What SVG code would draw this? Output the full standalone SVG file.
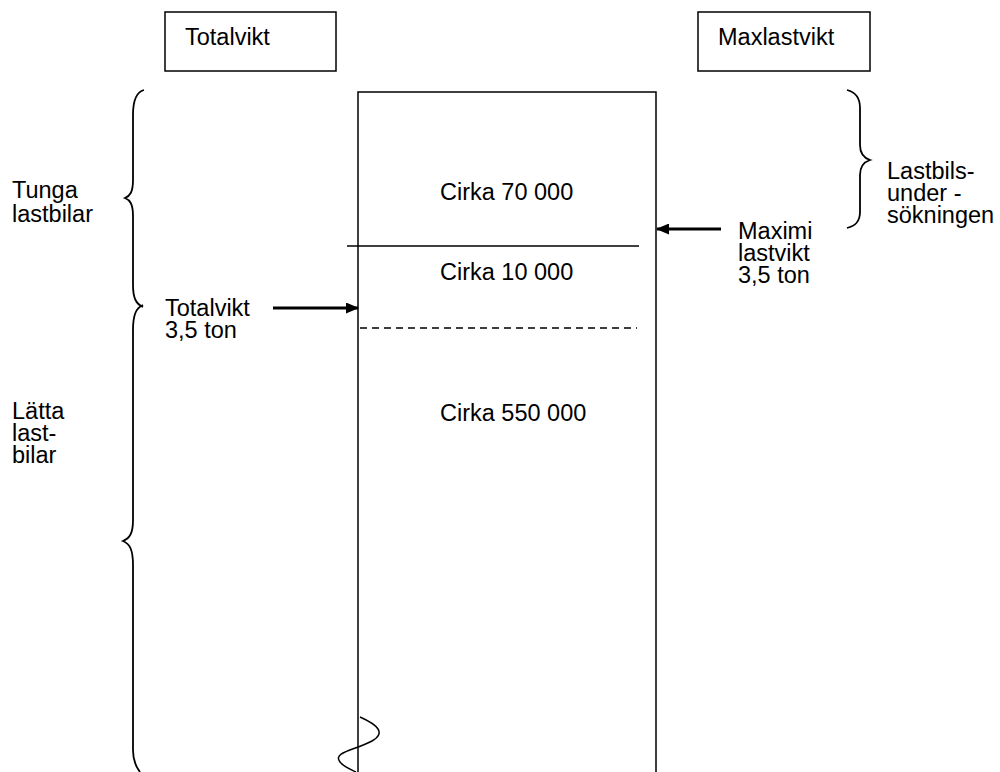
<svg xmlns="http://www.w3.org/2000/svg" width="1000" height="772" viewBox="0 0 1000 772">
<style>
text{font-family:"Liberation Sans",Arial,sans-serif;font-size:23.5px;fill:#000}
.ln{stroke:#000;stroke-width:1.5;fill:none}
.br{stroke:#000;stroke-width:1.8;fill:none}
.ar{stroke:#000;stroke-width:3;fill:none}
</style>
<defs>
<marker id="ah" markerWidth="13" markerHeight="11" refX="12" refY="5.5" orient="auto" markerUnits="userSpaceOnUse">
<path d="M0,0 L13,5.5 L0,11 Z" fill="#000"/>
</marker>
</defs>
<rect width="1000" height="772" fill="#fff"/>
<g id="box-totalvikt">
<rect x="165" y="12" width="171" height="59" fill="#fff" stroke="#000" stroke-width="1.5"/>
<text x="185" y="45">Totalvikt</text>
</g>
<g id="box-maxlastvikt">
<rect x="698" y="12" width="172" height="59" fill="#fff" stroke="#000" stroke-width="1.5"/>
<text x="718" y="45">Maxlastvikt</text>
</g>
<g id="column">
<path class="ln" d="M358,772 V92 H656 V772"/>
<line class="ln" x1="347" y1="246" x2="639" y2="246"/>
<line class="ln" x1="360" y1="328" x2="637" y2="328" stroke-dasharray="7,5"/>
<path class="ln" d="M360,717 C378,725 386,733 372,741 C356,750 332,752 340,762 C344,767 352,770 356,772"/>
<text x="440" y="200">Cirka 70 000</text>
<text x="440" y="280">Cirka 10 000</text>
<text x="440" y="421">Cirka 550 000</text>
</g>
<g id="brace-tunga">
<path class="br" d="M144,90 C136,92 133,100 133,115 V180 C133,192 130,196 125,198 C130,200 133,204 133,216 V285 C133,298 136,304 143,307"/>
<text x="12" y="198">Tunga</text>
<text x="12" y="222">lastbilar</text>
</g>
<g id="brace-latta">
<path class="br" d="M143,305 C136,308 133,315 133,330 V520 C133,533 130,538 123,541 C130,544 133,550 133,565 V750 C133,760 136,767 140,772"/>
<text x="12" y="419">Lätta</text>
<text x="12" y="441">last-</text>
<text x="12" y="463">bilar</text>
</g>
<g id="brace-lastbils">
<path class="br" d="M847,90 C855,92 860,97 860,108 V145 C860,154 864,158 870,160 C864,162 860,166 860,175 V212 C860,222 855,226 847,228"/>
<text x="887" y="179">Lastbils-</text>
<text x="887" y="201">under -</text>
<text x="887" y="223">sökningen</text>
</g>
<g id="label-totalvikt">
<text x="165" y="316">Totalvikt</text>
<text x="165" y="338">3,5 ton</text>
</g>
<g id="label-maximi">
<text x="738" y="239">Maximi</text>
<text x="738" y="261">lastvikt</text>
<text x="738" y="283">3,5 ton</text>
</g>
<g id="connectors">
<line class="ar" x1="273" y1="308" x2="358" y2="308" marker-end="url(#ah)"/>
<line class="ar" x1="721" y1="229" x2="657" y2="229" marker-end="url(#ah)"/>
</g>
</svg>
